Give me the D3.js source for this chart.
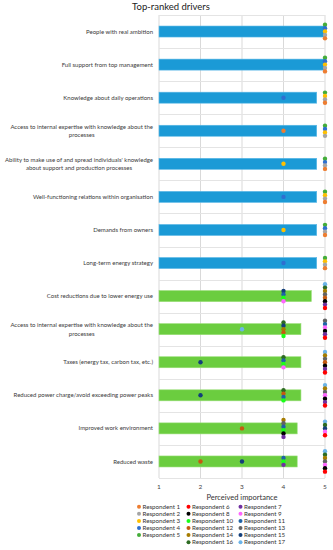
<!DOCTYPE html>
<html>
<head>
<meta charset="utf-8">
<script src="https://cdn.jsdelivr.net/npm/d3@7"></script>
<style>
  body { margin: 0; background: #fff; }
  svg { display: block; font-family: Lato, "Open Sans", sans-serif; }
</style>
</head>
<body>
<svg width="333" height="550"></svg>
<script>
const drivers = [
  "People with real ambition",
  "Full support from top management",
  "Knowledge about daily operations",
  "Access to internal expertise with knowledge about the\nprocesses",
  "Ability to make use of and spread individuals' knowledge\nabout support and production processes",
  "Well-functioning relations within organisation",
  "Demands from owners",
  "Long-term energy strategy",
  "Cost reductions due to lower energy use",
  "Access to internal expertise with knowledge about the\nprocesses",
  "Taxes (energy tax, carbon tax, etc.)",
  "Reduced power charge/avoid exceeding power peaks",
  "Improved work environment",
  "Reduced waste"
];
const driverGroup = ["a","a","a","a","a","a","a","a","b","b","b","b","b","b"];
const meanScores = [5, 5, 4.8, 4.8, 4.8, 4.8, 4.8, 4.8, 4.67, 4.42, 4.42, 4.42, 4.33, 4.33];

const respondents = d3.range(1, 18).map(i => "Respondent " + i);
const respondentColors = [
  "#ed7d31", "#a5a5a5", "#ffc000", "#2f6fd0", "#44ad3a",
  "#ff0000", "#7030a0", "#000000", "#ff66ff", "#1aff1a",
  "#1f63a6", "#c55a11", "#636363", "#a67c00", "#133f7a",
  "#2d6b22", "#6cb4e8"
];

// respondents 1-5, rows 1-8
const scoresA = [
  [5, 5, 5, 5, 5],
  [5, 5, 5, 5, 5],
  [5, 5, 5, 4, 5],
  [4, 5, 5, 5, 5],
  [5, 5, 4, 5, 5],
  [5, 5, 5, 4, 5],
  [5, 5, 4, 5, 5],
  [5, 5, 5, 4, 5]
];
// respondents 6-17, rows 9-14
const scoresB = [
  [5, 5, 5, 4, 4, 4, 5, 5, 5, 4, 5, 5],
  [5, 5, 5, 5, 4, 5, 4, 5, 4, 4, 4, 3],
  [5, 5, 5, 4, 4, 4, 5, 5, 5, 2, 4, 5],
  [5, 5, 5, 5, 4, 4, 4, 5, 5, 2, 4, 5],
  [5, 4, 4, 5, 4, 4, 3, 4, 4, 5, 5, 5],
  [5, 4, 5, 5, 4, 4, 2, 5, 5, 3, 5, 5]
];
const xTicks = [1, 2, 3, 4, 5];

const svg = d3.select("svg");
const x = d3.scaleLinear().domain([1, 5]).range([159, 325]);
const y = d3.scaleBand().domain(d3.range(drivers.length)).range([15, 478]);
const barColor = { a: "#1b9ad6", b: "#6bcd3f" };
const barEdge = { a: "#5cb8e6", b: "#97dd75" };

// title
svg.append("text")
  .attr("x", 171).attr("y", 10)
  .attr("text-anchor", "middle")
  .attr("font-size", 9.5)
  .attr("fill", "#222")
  .text("Top-ranked drivers");

// grid
svg.append("g").selectAll("line")
  .data(xTicks)
  .enter().append("line")
  .attr("x1", d => x(d)).attr("x2", d => x(d))
  .attr("y1", 15).attr("y2", 478)
  .attr("stroke", "#d9d9d9").attr("stroke-width", 1);

svg.append("g").selectAll("line")
  .data(d3.range(drivers.length + 1))
  .enter().append("line")
  .attr("x1", 159).attr("x2", 325)
  .attr("y1", d => Math.round(15 + d * y.step()) + 0.5)
  .attr("y2", d => Math.round(15 + d * y.step()) + 0.5)
  .attr("stroke", "#e4e4e4").attr("stroke-width", 1);

// bars
svg.append("g").selectAll("rect")
  .data(meanScores)
  .enter().append("rect")
  .attr("x", x(1))
  .attr("y", (d, i) => y(i) + y.bandwidth() / 2 - 5.5)
  .attr("width", d => x(d) - x(1))
  .attr("height", 11)
  .attr("fill", (d, i) => barColor[driverGroup[i]])
  .attr("stroke", (d, i) => barEdge[driverGroup[i]])
  .attr("stroke-width", 0.6);

// dots: respondents with the same score are stacked, higher number on top
const points = [];
drivers.forEach((lab, i) => {
  const row = driverGroup[i] === "a" ? scoresA[i] : scoresB[i - 8];
  const offset = driverGroup[i] === "a" ? 0 : 5;
  const byValue = d3.group(row.map((v, k) => ({ v, r: k + offset })), d => d.v);
  byValue.forEach(list => {
    list.sort((p, q) => q.r - p.r);
    list.forEach((p, k) => {
      points.push({ row: i, v: p.v, r: p.r, k, n: list.length });
    });
  });
});

svg.append("g").selectAll("circle")
  .data(points)
  .enter().append("circle")
  .attr("cx", d => x(d.v))
  .attr("cy", d => y(d.row) + y.bandwidth() / 2 + (d.k - (d.n - 1) / 2) * 3.4)
  .attr("r", 2.2)
  .attr("fill", d => respondentColors[d.r]);

// category labels (wrapped lines centred on each other, block right-aligned)
const labels = svg.append("g")
  .attr("font-size", 6)
  .attr("fill", "#3a3a3a");

drivers.forEach((lab, i) => {
  const lines = lab.split("\n");
  const cy = y(i) + y.bandwidth() / 2;
  const t = labels.append("text").attr("text-anchor", "middle");
  lines.forEach((ln, j) => {
    t.append("tspan")
      .attr("y", cy + 2.1 + (j - (lines.length - 1) / 2) * 8.5)
      .text(ln);
  });
  t.selectAll("tspan").each(function() {
    const len = this.getComputedTextLength();
    if (len > 149) d3.select(this).attr("textLength", 149).attr("lengthAdjust", "spacingAndGlyphs");
  });
  const w = Math.min(149, d3.max(t.selectAll("tspan").nodes(), n => n.getComputedTextLength()));
  t.selectAll("tspan").attr("x", 153 - w / 2);
});

// x axis labels
svg.append("g").selectAll("text")
  .data(xTicks)
  .enter().append("text")
  .attr("x", d => x(d)).attr("y", 489)
  .attr("text-anchor", "middle")
  .attr("font-size", 6.5)
  .attr("fill", "#444")
  .text(d => d);

svg.append("text")
  .attr("x", 242).attr("y", 499.5)
  .attr("text-anchor", "middle")
  .attr("font-size", 7.5)
  .attr("fill", "#333")
  .text("Perceived importance");

// legend
const colX = [139, 188.5, 240.5];
const legendPos = respondents.map((r, j) => {
  if (j < 5) return { col: 0, row: j };
  return { col: 1 + (j - 5) % 2, row: Math.floor((j - 5) / 2) };
});

const leg = svg.append("g").selectAll("g")
  .data(respondents)
  .enter().append("g")
  .attr("transform", (d, j) => `translate(${colX[legendPos[j].col]},${506.7 + legendPos[j].row * 7.1})`);

leg.append("circle")
  .attr("r", 2)
  .attr("fill", (d, j) => respondentColors[j]);

leg.append("text")
  .attr("x", 3.5).attr("y", 2.2)
  .attr("font-size", 6.2)
  .attr("fill", "#333")
  .text(d => d);
</script>
</body>
</html>
